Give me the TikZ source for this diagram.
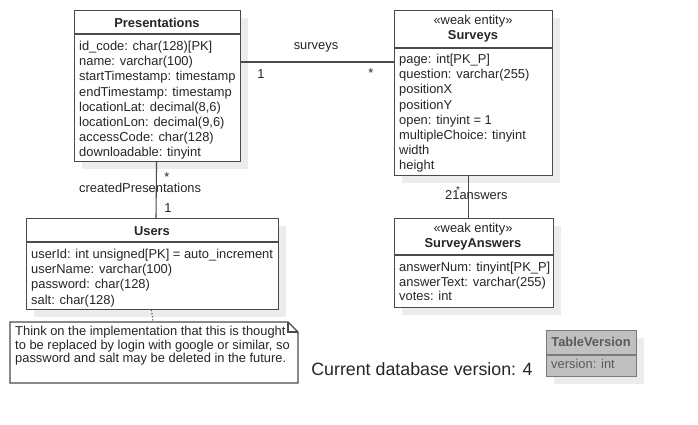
\documentclass[tikz,border=0pt]{standalone}
\usepackage{fontspec}
\setmainfont{Liberation Sans}
\usetikzlibrary{calc,shadows}
\definecolor{ln}{HTML}{4A4A4A}
\definecolor{shd}{HTML}{ECECEC}
\definecolor{txt}{HTML}{262626}
\definecolor{tvfill}{HTML}{C0C0C0}
\definecolor{tvline}{HTML}{7A7A7A}
\definecolor{tvtxt}{HTML}{5A5A5A}
\tikzset{
  cls/.style={draw=ln, line width=1.1pt, fill=white, anchor=north west, inner sep=0,
    drop shadow={shadow xshift=7pt, shadow yshift=-7pt, fill=shd, opacity=1}},
  attrs/.style={anchor=north west, align=left, inner sep=0, text=txt,
    font=\fontsize{12.9}{15.2}\selectfont},
  ttl/.style={inner sep=0, text=txt, font=\fontsize{12.9}{14}\selectfont\bfseries},
  stereo/.style={inner sep=0, text=txt, font=\fontsize{12.9}{14}\selectfont},
  lbl/.style={inner sep=0, text=txt, font=\fontsize{12.9}{14}\selectfont},
  conn/.style={draw=ln, line width=1.1pt},
}
\begin{document}
\begin{tikzpicture}[x=1pt,y=-1pt]
\useasboundingbox[fill=white] (0,0) rectangle (698,425);

% Presentations
\node[cls, minimum width=166pt, minimum height=151pt] (pres) at (74,10) {};
\draw[conn] ([yshift=-24pt]pres.north west) -- ([yshift=-24pt]pres.north east);
\node[ttl] (presT) at (157,23) {Presentations};
\node[attrs] (presA) at (79,41) {id\_code: char(128)[PK]\\name: varchar(100)\\startTimestamp: timestamp\\endTimestamp: timestamp\\locationLat: decimal(8,6)\\locationLon: decimal(9,6)\\accessCode: char(128)\\downloadable: tinyint};

% Surveys
\node[cls, minimum width=158pt, minimum height=165pt] (surv) at (394,10) {};
\draw[conn] ([yshift=-38pt]surv.north west) -- ([yshift=-38pt]surv.north east);
\node[stereo] (survS) at (473,21) {«weak entity»};
\node[ttl] (survT) at (473,36) {Surveys};
\node[attrs] (survA) at (399,54) {page: int[PK\_P]\\question: varchar(255)\\positionX\\positionY\\open: tinyint = 1\\multipleChoice: tinyint\\width\\height};

% Users
\node[cls, minimum width=252pt, minimum height=91pt] (users) at (26,218) {};
\draw[conn] ([yshift=-24pt]users.north west) -- ([yshift=-24pt]users.north east);
\node[ttl] (usersT) at (152,231) {Users};
\node[attrs] (usersA) at (31,249) {userId: int unsigned[PK] = auto\_increment\\userName: varchar(100)\\password: char(128)\\salt: char(128)};

% SurveyAnswers
\node[cls, minimum width=159pt, minimum height=89pt] (ans) at (394,218) {};
\draw[conn] ([yshift=-37pt]ans.north west) -- ([yshift=-37pt]ans.north east);
\node[stereo] (ansS) at (473,229) {«weak entity»};
\node[ttl] (ansT) at (473,244) {SurveyAnswers};
\node[attrs, font=\fontsize{12.9}{14.6}\selectfont] (ansA) at (399,262) {answerNum: tinyint[PK\_P]\\answerText: varchar(255)\\votes: int};

% Note
\coordinate (nNW) at (10,322);
\coordinate (nSE) at (298,383);
\draw[conn, fill=white] (nNW) -- (288,322) -- (298,332) -- (nSE) -- (10,383) -- cycle;
\draw[conn] (288,322) -- (288,332) -- (298,332);
\node[attrs, font=\fontsize{12.9}{13.6}\selectfont] (note) at (15,326) {Think on the implementation that this is thought\\to be replaced by login with google or similar, so\\password and salt may be deleted in the future.};
\draw[conn, dotted] ([xshift=-1pt]users.south) -- (153,322);

% Connectors
\draw[conn] ([yshift=-52pt]pres.north east) -- ([yshift=-52pt]surv.north west);
\node[lbl] (l1) at (316,47) {surveys};
\node[lbl] (l2) at (261,74) {1};
\node[lbl] (l3) at (371,73) {*};

\draw[conn] ([xshift=-1pt]pres.south) -- ([xshift=130pt]users.north west);
\node[lbl] (l4) at (167,177) {*};
\node[lbl, anchor=west] (l5) at (79,188) {createdPresentations};
\node[lbl] (l6) at (168,208) {1};

\draw[conn] ([xshift=-5pt]surv.south) -- ([xshift=-5.5pt]ans.north);
\node[lbl, anchor=west] (l7) at (445,195) {21answers};
\node[lbl, font=\fontsize{10}{11}\selectfont] (l8) at (458,190) {*};

% Version
\node[inner sep=0, text=txt, font=\fontsize{17.8}{19}\selectfont] (ver) at (422,369) {Current database version: 4};
\node[draw=tvline, line width=1.1pt, fill=tvfill, anchor=north west, inner sep=0,
  minimum width=90pt, minimum height=46pt,
  drop shadow={shadow xshift=7pt, shadow yshift=-7pt, fill=shd, opacity=1}] (tv) at (546,330) {};
\draw[draw=tvline, line width=1.1pt] ([yshift=-25pt]tv.north west) -- ([yshift=-25pt]tv.north east);
\node[ttl, text=tvtxt] (tvT) at (591,342) {TableVersion};
\node[attrs, text=tvtxt] (tvA) at (551,359) {version: int};
\end{tikzpicture}
\end{document}
